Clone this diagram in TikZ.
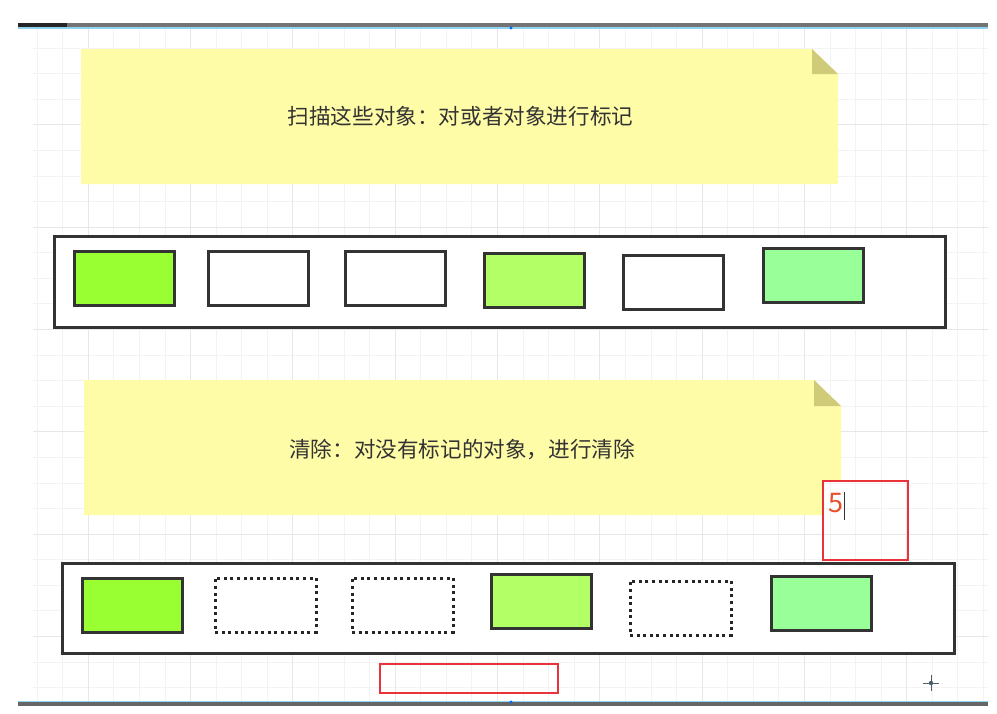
\documentclass[tikz,border=0pt]{standalone}
\usepackage{fontspec}
\newfontfamily\cjk{Noto Sans CJK SC}
\definecolor{gridminor}{HTML}{F3F3F3}
\definecolor{gridmajor}{HTML}{E7E7E7}
\definecolor{noteyellow}{HTML}{FFFCA8}
\definecolor{notefold}{HTML}{CFCB78}
\definecolor{boxline}{HTML}{333333}
\definecolor{greenA}{HTML}{99FF33}
\definecolor{greenB}{HTML}{B3FF66}
\definecolor{greenC}{HTML}{99FF99}
\definecolor{redline}{HTML}{E8333A}
\definecolor{redtext}{HTML}{E8502A}
\definecolor{barblue}{HTML}{8FD3F0}
\definecolor{crossc}{HTML}{4A5E6A}
\newcommand{\mygrid}{%
  \foreach \i in {0,...,37} {\draw[gridminor, line width=0.8pt] (37+\i*25.58,28.5) -- (37+\i*25.58,700.5);}
  \foreach \i in {1,...,26} {\draw[gridminor, line width=0.8pt] (33,22.5+\i*25.58) -- (988,22.5+\i*25.58);}
  \foreach \i in {0,...,8} {\draw[gridmajor, line width=0.9pt] (88.2+\i*102.32,28.5) -- (88.2+\i*102.32,700.5);}
  \foreach \i in {1,...,6} {\draw[gridmajor, line width=0.9pt] (33,22.5+\i*102.32) -- (988,22.5+\i*102.32);}
}
\tikzset{
  container/.style={draw=boxline, line width=3pt, fill=white, inner sep=0pt},
  objbox/.style={draw=boxline, line width=3pt, minimum width=100pt, minimum height=54pt, inner sep=0pt},
  freedbox/.style={draw=black!85, line width=3pt, dash pattern=on 3pt off 3.6pt, minimum width=101pt, minimum height=54pt, inner sep=0pt},
  notetext/.style={font=\cjk\fontsize{21.6}{25}\selectfont, text=black!80, inner sep=0pt},
  redbox/.style={draw=redline, line width=1.6pt, inner sep=0pt},
}
\begin{document}
\begin{tikzpicture}[x=1pt,y=-1pt]
\useasboundingbox (0,0) rectangle (997,713);
\fill[white] (0,0) rectangle (997,713);
% grid
\mygrid
% top bar
\fill[black!55] (18,23) rectangle (988,27.3);
\fill[black!85] (18,23) rectangle (67,27.3);
\fill[barblue] (18,27.3) rectangle (988,28.6);
\fill[blue!60!cyan] (511,28) circle (1.6);
% bottom bar
\fill[barblue] (18,700.6) rectangle (988,702);
\fill[black!60] (18,702) rectangle (988,706);
\fill[blue!60!cyan] (511,702) circle (1.6);
% note 1
\fill[noteyellow] (81,49) -- (812,49) -- (838,74) -- (838,184) -- (81,184) -- cycle;
\fill[notefold] (812,49) -- (838,74) -- (812,74) -- cycle;
\node[notetext] (t1) at (460.5,116) {扫描这些对象：对或者对象进行标记};
% container 1
\node[container, minimum width=891pt, minimum height=91pt] (c1) at (500,281.5) {};
\node[objbox, fill=greenA] (a1) at (124.5,278) {};
\node[objbox, fill=white] (a2) at (258.5,278) {};
\node[objbox, fill=white] (a3) at (395,278) {};
\node[objbox, fill=greenB] (a4) at (534,280) {};
\node[objbox, fill=white] (a5) at (673,282) {};
\node[objbox, fill=greenC] (a6) at (813,275.5) {};
% note 2
\fill[noteyellow] (84,380) -- (814,380) -- (841,406) -- (841,515) -- (84,515) -- cycle;
\fill[notefold] (814,380) -- (841,406) -- (814,406) -- cycle;
\node[notetext] (t2) at (462,449) {清除：对没有标记的对象，进行清除};
% red box with "5"
\fill[white] (823,481) rectangle (908,560);
\begin{scope}
  \clip (823,481) rectangle (908,560);
  \mygrid
\end{scope}
\node[redbox, minimum width=85pt, minimum height=79pt] (r1) at (865.5,520.5) {};
\node[font=\cjk\fontsize{27}{30}\selectfont, text=redtext, inner sep=0pt, anchor=west] (five) at (828,503) {5};
\draw[black!80, line width=1pt] (844,492) -- (844,520);
% container 2
\node[container, minimum width=892pt, minimum height=90pt] (c2) at (508,608) {};
\node[objbox, fill=greenA] (b1) at (132,605) {};
\node[freedbox] (b2) at (265.5,605) {};
\node[freedbox] (b3) at (402.5,605) {};
\node[objbox, fill=greenB] (b4) at (541,601.5) {};
\node[freedbox] (b5) at (680.5,608) {};
\node[objbox, fill=greenC] (b6) at (821,603) {};
% bottom red box
\node[redbox, minimum width=178pt, minimum height=29pt] (r2) at (469,678.5) {};
% crosshair
\coordinate (ch) at (931,683);
\draw[crossc, line width=1pt] ([xshift=-8pt]ch) -- ([xshift=8pt]ch);
\draw[crossc, line width=1pt] ([yshift=-8pt]ch) -- ([yshift=8pt]ch);
\fill[crossc] (ch) circle (2.2);
\end{tikzpicture}
\end{document}
